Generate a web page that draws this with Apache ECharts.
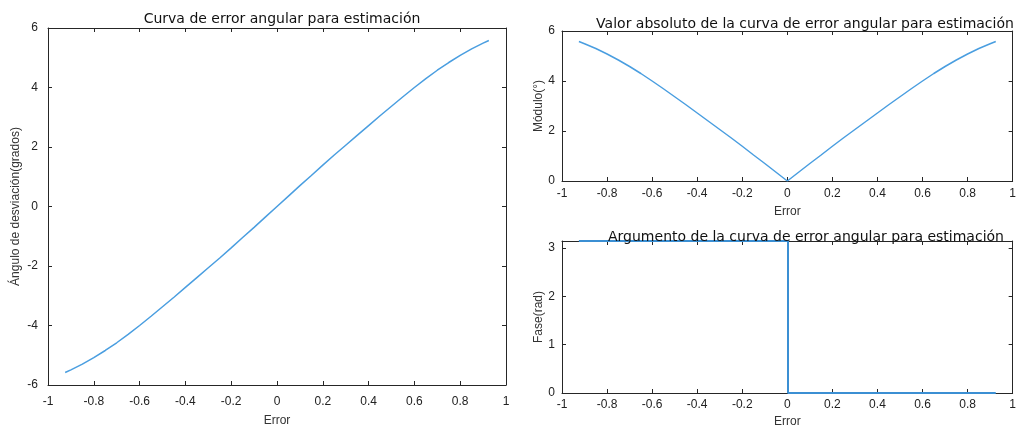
<!DOCTYPE html>
<html>
<head>
<meta charset="utf-8">
<script src="https://cdn.jsdelivr.net/npm/echarts@6/dist/echarts.min.js"></script>
<style>html,body{margin:0;padding:0;background:#fff}#c{width:1019px;height:432px}</style>
</head>
<body>
<div id="c"></div>
<script>
// ---- data ----
const errorX = [-0.925,-0.9,-0.85,-0.8,-0.75,-0.7,-0.65,-0.6,-0.55,-0.5,-0.45,-0.4,-0.35,-0.3,-0.25,-0.2,-0.15,-0.1,-0.05,0,
  0.05,0.1,0.15,0.2,0.25,0.3,0.35,0.4,0.45,0.5,0.55,0.6,0.65,0.7,0.75,0.8,0.85,0.9,0.925];
const angleDeg = [-5.58,-5.49,-5.30,-5.08,-4.84,-4.58,-4.30,-4.00,-3.69,-3.37,-3.05,-2.72,-2.39,-2.06,-1.73,-1.39,-1.04,-0.70,-0.35,0,
  0.35,0.70,1.04,1.39,1.73,2.06,2.39,2.72,3.05,3.37,3.69,4.00,4.30,4.58,4.84,5.08,5.30,5.49,5.58];
const moduleDeg = [5.58,5.49,5.30,5.08,4.84,4.58,4.30,4.00,3.69,3.37,3.05,2.72,2.39,2.06,1.73,1.39,1.04,0.70,0.35,0,
  0.35,0.70,1.04,1.39,1.73,2.06,2.39,2.72,3.05,3.37,3.69,4.00,4.30,4.58,4.84,5.08,5.30,5.49,5.58];
const phaseX = [-0.925, 0.003, 0.003, 0.925];
const phaseRad = [3.14159, 3.14159, 0, 0];
const xTicks = ['-1','-0.8','-0.6','-0.4','-0.2','0','0.2','0.4','0.6','0.8','1'];

const titles = ['Curva de error angular para estimación',
  'Valor absoluto de la curva de error angular para estimación',
  'Argumento de la curva de error angular para estimación'];
const yNames = ['Ángulo de desviación(grados)', 'Módulo(°)', 'Fase(rad)'];
const xName = 'Error';

// ---- chart ----
const AX = '#262626';
const LINE = '#4a9ee0';
const TF = 'DejaVu Sans';
const LF = 'Liberation Sans';

const grids = [
  {left: 48, top: 28, width: 458, height: 361},
  {left: 562, top: 31, width: 462, height: 150},
  {left: 562, top: 241, width: 462, height: 152}
];
const xGaps = [30, 25, 23];
const yGaps = [26, 14, 17];
const xLabelMargins = [11, 7, 6];
const yLabelMargins = [10, 7, 7];
const yRanges = [{min: -6, max: 6, interval: 2}, {min: 0, max: 6, interval: 2}, {min: 0, max: Math.PI, interval: 1}];

const xAxis = [], yAxis = [];
grids.forEach((g, i) => {
  const base = {
    type: 'value', gridIndex: i, min: -1, max: 1, interval: 0.2,
    axisLine: {onZero: false, lineStyle: {color: AX, width: 1}},
    axisTick: {inside: true, length: 4, lineStyle: {color: AX}},
    splitLine: {show: false}
  };
  xAxis.push(Object.assign({}, base, {
    position: 'bottom',
    name: xName, nameLocation: 'middle', nameGap: xGaps[i],
    nameTextStyle: {fontFamily: LF, fontSize: 12, color: '#333'},
    axisLabel: {fontFamily: LF, fontSize: 12, color: '#222', margin: xLabelMargins[i],
      formatter: v => { const k = Math.round((v + 1) / 0.2); return xTicks[k] !== undefined ? xTicks[k] : ''; }}
  }));
  xAxis.push(Object.assign({}, base, {position: 'top', axisLabel: {show: false}}));
  const r = yRanges[i];
  const ybase = {
    type: 'value', gridIndex: i, min: r.min, max: r.max, interval: r.interval,
    axisLine: {onZero: false, lineStyle: {color: AX, width: 1}},
    axisTick: {inside: true, length: 4, lineStyle: {color: AX}},
    splitLine: {show: false}
  };
  yAxis.push(Object.assign({}, ybase, {
    position: 'left',
    name: yNames[i], nameLocation: 'middle', nameGap: yGaps[i],
    nameTextStyle: {fontFamily: LF, fontSize: 12, color: '#333'},
    axisLabel: {fontFamily: LF, fontSize: 12, color: '#222', margin: yLabelMargins[i],
      formatter: v => (Math.abs(v - Math.round(v)) < 1e-9 ? String(Math.round(v)) : '')}
  }));
  yAxis.push(Object.assign({}, ybase, {position: 'right', axisLabel: {show: false}}));
});

const pairs = (xs, ys) => xs.map((x, k) => [x, ys[k]]);
const lineSeries = (i, d, w, c) => ({
  type: 'line', xAxisIndex: 2 * i, yAxisIndex: 2 * i, data: d,
  showSymbol: false, symbol: 'none', smooth: false, silent: true,
  lineStyle: {color: c, width: w}, animation: false
});

const tStyle = {fontFamily: TF, fontSize: 14, fontWeight: 'normal', color: '#111'};
const option = {
  animation: false,
  backgroundColor: '#fff',
  title: [
    {text: titles[0], left: 277, top: 7, textAlign: 'center', textStyle: tStyle},
    {text: titles[1], left: 800, top: 12, textAlign: 'center', textStyle: tStyle},
    {text: titles[2], left: 801, top: 225, textAlign: 'center', textStyle: tStyle}
  ],
  grid: grids,
  xAxis: xAxis,
  yAxis: yAxis,
  series: [
    lineSeries(0, pairs(errorX, angleDeg), 1.5, LINE),
    lineSeries(1, pairs(errorX, moduleDeg), 1.5, LINE),
    lineSeries(2, pairs(phaseX, phaseRad), 2, '#3b8fd3')
  ]
};
const chart = echarts.init(document.getElementById('c'), null, {renderer: 'canvas'});
chart.setOption(option);
</script>
</body>
</html>
